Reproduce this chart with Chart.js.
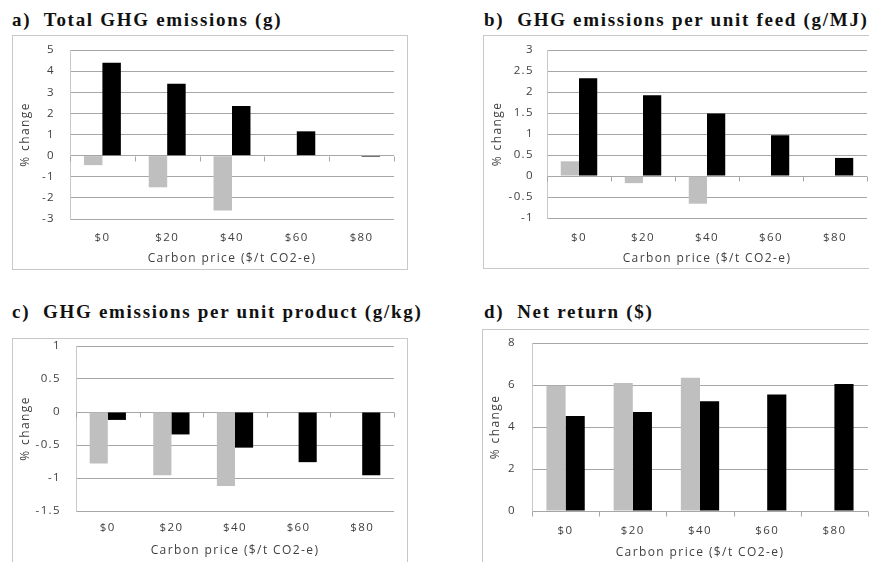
<!DOCTYPE html>
<html><head><meta charset="utf-8">
<script src="https://cdn.jsdelivr.net/npm/chart.js@4"></script>
<style>
body{margin:0;background:#fff;width:869px;height:562px;overflow:hidden;position:relative;}
.box{position:absolute;border:1px solid #c8c8c8;}
.box canvas{display:block;}
.title{position:absolute;font:bold 19px "Liberation Serif",serif;line-height:18px;color:#111;white-space:nowrap;letter-spacing:1.7px;}
</style></head><body>
<div class="title" style="left:12px;top:11px">a)&nbsp; Total GHG emissions (g)</div>
<div class="title" style="left:484px;top:11px">b)&nbsp; GHG emissions per unit feed (g/MJ)</div>
<div class="title" style="left:12px;top:303px">c)&nbsp; GHG emissions per unit product (g/kg)</div>
<div class="title" style="left:484px;top:303px">d)&nbsp; Net return ($)</div>
<div class="box" style="left:12px;top:35px"><canvas id="cA" width="394" height="233"></canvas></div>
<div class="box" style="left:483px;top:35px"><canvas id="cB" width="420" height="232"></canvas></div>
<div class="box" style="left:12px;top:338px"><canvas id="cC" width="394" height="240"></canvas></div>
<div class="box" style="left:482px;top:329px"><canvas id="cD" width="420" height="240"></canvas></div>
<script>
// ---- data ----
const categories = ['$0', '$20', '$40', '$60', '$80'];
const xAxisTitle = 'Carbon price ($/t CO2-e)';
const yAxisTitle = '% change';

const totalGrey  = [-0.45, -1.5, -2.6, null, null];
const totalBlack = [4.4, 3.4, 2.35, 1.15, -0.05];

const feedGrey  = [0.35, -0.17, -0.66, null, null];
const feedBlack = [2.33, 1.92, 1.49, 0.97, 0.43];

const productGrey  = [-0.78, -0.96, -1.12, null, null];
const productBlack = [-0.12, -0.34, -0.54, -0.76, -0.96];

const returnGrey  = [5.97, 6.1, 6.34, null, null];
const returnBlack = [4.52, 4.71, 5.23, 5.55, 6.05];

// ---- styling ----
Chart.defaults.font.family = '"Open Sans", sans-serif';
Chart.defaults.color = '#404040';
const GREY = '#bfbfbf', BLACK = '#000000', GRID = '#a6a6a6';

const spacing = {
  id: 'spacing',
  beforeUpdate(chart) { chart.ctx.letterSpacing = '1.4px'; },
  beforeLayout(chart) { chart.ctx.letterSpacing = '1.4px'; },
  beforeDraw(chart) { chart.ctx.letterSpacing = '1.4px'; }
};

const zeroTicks = {
  id: 'zeroTicks',
  afterDatasetsDraw(chart) {
    const {ctx, chartArea: a, scales: {y}} = chart;
    const y0 = Math.round(y.getPixelForValue(0)) + 0.5;
    const n = chart.data.labels.length;
    ctx.save();
    ctx.strokeStyle = GRID; ctx.lineWidth = 1;
    for (let i = 0; i <= n; i++) {
      const px = Math.round(a.left + (a.right - a.left) * i / n) + 0.5;
      ctx.beginPath(); ctx.moveTo(px, y0); ctx.lineTo(px, y0 + 5); ctx.stroke();
    }
    ctx.restore();
  }
};

function makeChart(id, grey, black, yMin, yMax, step, L) {
  new Chart(document.getElementById(id), {
    type: 'bar',
    data: {
      labels: categories,
      datasets: [
        {data: grey, backgroundColor: GREY, categoryPercentage: 0.57, barPercentage: 1.0},
        {data: black, backgroundColor: BLACK, categoryPercentage: 0.57, barPercentage: 1.0}
      ]
    },
    options: {
      responsive: false, animation: false,
      layout: {padding: {left: 0, top: L.top, right: L.right, bottom: L.bottom}},
      plugins: {legend: {display: false}, tooltip: {enabled: false}},
      scales: {
        x: {
          grid: {display: false, drawTicks: false},
          border: {display: false},
          ticks: {font: {size: 11.5}, padding: L.xTickPad, color: '#404040'},
          title: {display: true, text: xAxisTitle, font: {size: 12}, padding: {top: 0, bottom: L.xTitlePad}, color: '#404040'},
          afterFit(s) { s.height = L.xH; }
        },
        y: {
          min: yMin, max: yMax,
          grid: {color: GRID, drawTicks: false},
          border: {display: true, color: '#c8c8c8'},
          ticks: {stepSize: step, font: {size: 11.5}, padding: L.yTickPad, color: '#404040',
                  callback: v => String(+v.toFixed(2))},
          title: {display: true, text: yAxisTitle, font: {size: 12}, padding: {top: L.yTitlePad, bottom: 0}, color: '#404040'},
          afterFit(s) { s.width = L.yW; s.paddingTop = 0; s.paddingBottom = 0; }
        }
      }
    },
    plugins: [spacing, zeroTicks]
  });
}

makeChart('cA', totalGrey, totalBlack, -3, 5, 1,
  {top: 14, right: 13, bottom: 0, yW: 57, xH: 50, yTitlePad: 5, yTickPad: 15, xTickPad: 12, xTitlePad: 3});
makeChart('cB', feedGrey, feedBlack, -1, 3, 0.5,
  {top: 14, right: 37, bottom: 0, yW: 63, xH: 50, yTitlePad: 6, yTickPad: 13, xTickPad: 13, xTitlePad: 2});
makeChart('cC', productGrey, productBlack, -1.5, 1, 0.5,
  {top: 7, right: 13, bottom: 18, yW: 63, xH: 50, yTitlePad: 5, yTickPad: 15, xTickPad: 10, xTitlePad: 3});
makeChart('cD', returnGrey, returnBlack, 0, 8, 2,
  {top: 13, right: 35, bottom: 9, yW: 49, xH: 50, yTitlePad: 5.5, yTickPad: 16, xTickPad: 13, xTitlePad: 1});
</script>
</body></html>
